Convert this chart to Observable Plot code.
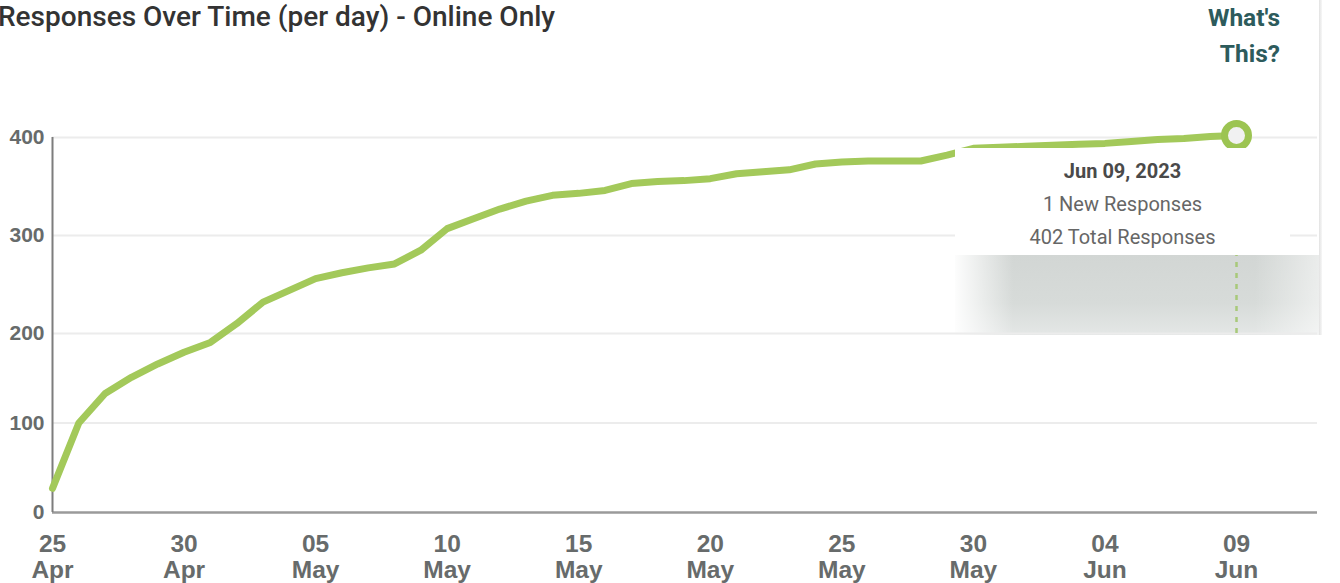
<!DOCTYPE html>
<html>
<head>
<meta charset="utf-8">
<script src="https://cdn.jsdelivr.net/npm/d3@7"></script>
<script src="https://cdn.jsdelivr.net/npm/@observablehq/plot@0.6"></script>
<style>
  html, body { margin: 0; padding: 0; background: #fff; overflow: hidden; width: 1340px; height: 583px; }
  #wrap { position: relative; width: 1340px; height: 583px; }
  #title { position: absolute; left: -2px; top: 0px; font: 500 28px Roboto, sans-serif; color: #333; white-space: nowrap; }
  #whats { position: absolute; right: 60px; top: 0px; text-align: right; font: bold 24.5px Roboto, sans-serif; line-height: 36px; color: #2d5b5c; }
  #shadow { position: absolute; left: 955px; top: 255px; width: 365px; height: 80px; z-index: 0;
    background:
      linear-gradient(to right, rgba(255,255,255,0.95) 0%, rgba(255,255,255,0) 16%, rgba(255,255,255,0) 82%, rgba(255,255,255,0.55) 100%),
      linear-gradient(to bottom, #d2d6d4 0%, #d7dbd9 60%, #e4e7e6 100%); }
  #edge { position: absolute; left: 1319px; top: 0; width: 3px; height: 335px; background: linear-gradient(to right, #e2e2e2, #f7f7f7); z-index: 0; }
  #chart { position: absolute; left: 0; top: 0; z-index: 1; }
  #tip { position: absolute; left: 955px; top: 148px; width: 335px; height: 107px; background: #fff; z-index: 2;
    text-align: center; font: 20px Roboto, sans-serif; color: #666; padding-top: 7px; box-sizing: border-box; line-height: 33px; }
  #tip .d { font-weight: bold; color: #4a4a4a; }
</style>
</head>
<body>
<div id="wrap">
  <div id="title">Responses Over Time (per day) - Online Only</div>
  <div id="whats">What's<br>This?</div>
  <div id="shadow"></div>
  <div id="edge"></div>
  <div id="chart"></div>
  <div id="tip">
    <div class="d">Jun 09, 2023</div>
    <div>1 New Responses</div>
    <div>402 Total Responses</div>
  </div>
</div>
<script>
// ---- data ----
const startDay = "2023-04-25";
const totalResponses = [
  27, 100, 133, 151, 166, 179, 190, 210, 232, 244,
  256, 262, 267, 271, 285, 307, 317, 327, 335, 341,
  343, 346, 353, 355, 356, 358, 363, 365, 367, 373,
  375, 376, 376, 376, 382, 389, 390, 391, 392, 393,
  394, 396, 398, 399, 401, 402
];
const xTickDays = [
  "2023-04-25", "2023-04-30", "2023-05-05", "2023-05-10", "2023-05-15",
  "2023-05-20", "2023-05-25", "2023-05-30", "2023-06-04", "2023-06-09"
];
const yTicks = [0, 100, 200, 300, 400];

const start = new Date(startDay + "T00:00:00Z");
const data = totalResponses.map((v, i) => ({ date: d3.utcDay.offset(start, i), total: v }));
const last = data[data.length - 1];
const tickDates = xTickDays.map(s => new Date(s + "T00:00:00Z"));

const green = "#a3c95a";

const chart = Plot.plot({
  width: 1340,
  height: 583,
  marginLeft: 52,
  marginRight: 23,
  marginTop: 137,
  marginBottom: 71,
  style: { background: "transparent", fontFamily: "'Liberation Sans', Arial, sans-serif" },
  x: { type: "utc", domain: [start, last.date], range: [52, 1236], label: null },
  y: { type: "linear", domain: [0, 200, 400], range: [512, 333, 137], label: null },
  marks: [
    Plot.ruleY([100, 200, 300, 400], { stroke: "#ececec", strokeWidth: 2 }),
    Plot.ruleY([0], { stroke: "#9a9a9a", strokeWidth: 2.5 }),
    Plot.ruleX([start], { y1: 0, y2: 400, stroke: "#7d7d7d", strokeWidth: 2 }),
    Plot.ruleX([last], { x: "date", y1: 200, y2: "total", stroke: "#a8c97a", strokeWidth: 2.5, strokeDasharray: "5,6" }),
    Plot.axisY({ ticks: yTicks, tickSize: 0, tickPadding: 8, fontSize: 21, fontWeight: "bold", fill: "#676b6b", tickFormat: d => d, label: null }),
    Plot.axisX({ ticks: tickDates, tickSize: 0, tickPadding: 22, fontSize: 24.5, fontWeight: "bold", fill: "#676b6b",
                 lineHeight: 1.03, tickFormat: d3.utcFormat("%d\n%b"), label: null }),
    Plot.line(data, { x: "date", y: "total", stroke: green, strokeWidth: 7, strokeLinejoin: "round", strokeLinecap: "round" }),
    Plot.dot([last], { x: "date", y: "total", r: 12, stroke: "#9cc452", strokeWidth: 7, fill: "#f1f1f1" })
  ]
});
document.getElementById("chart").appendChild(chart);
</script>
</body>
</html>
